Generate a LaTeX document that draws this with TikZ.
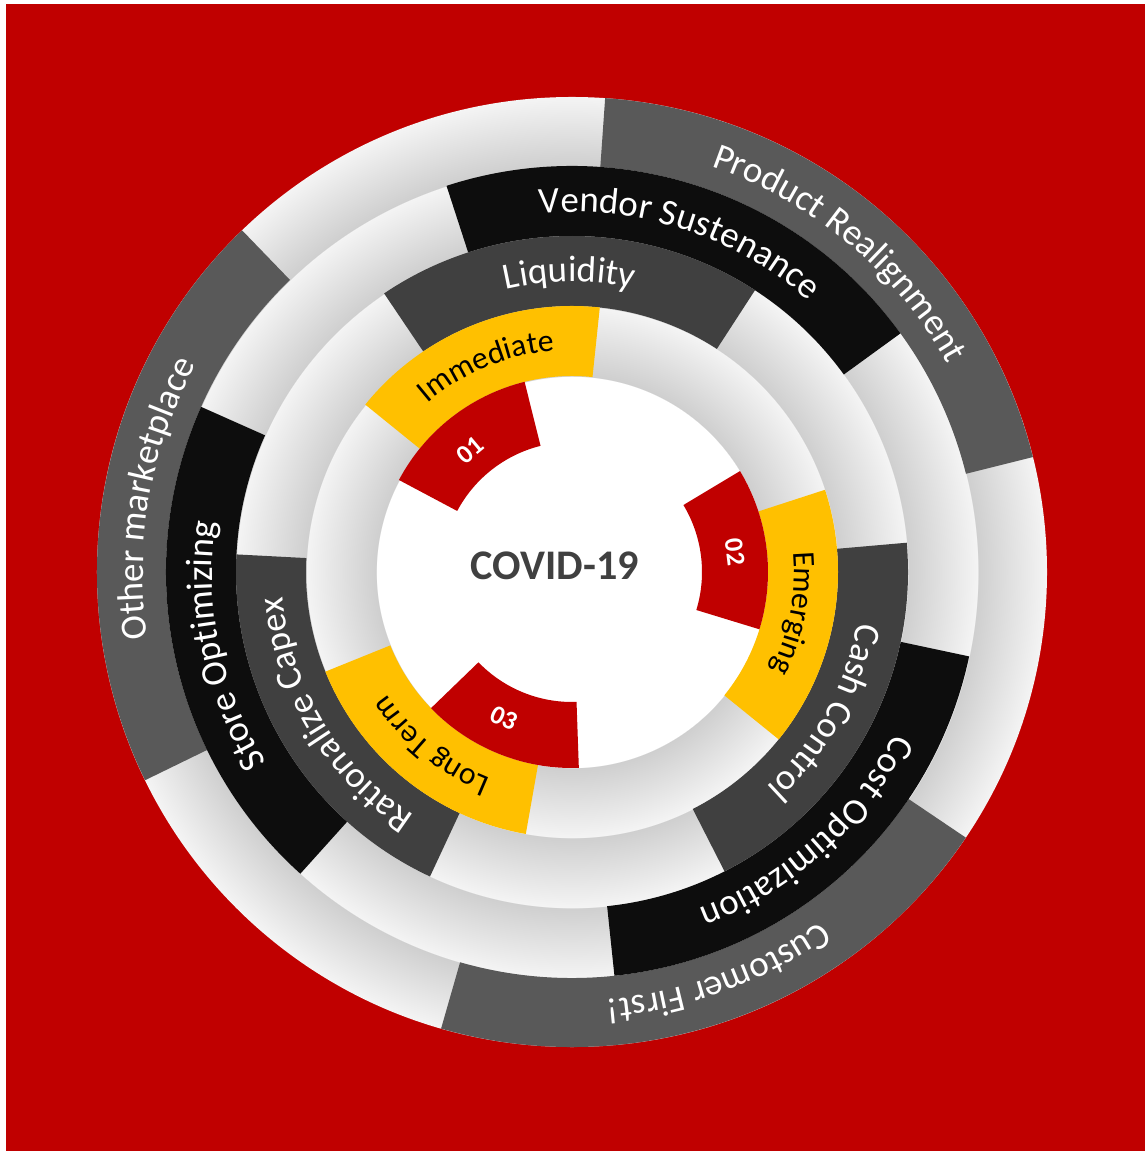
\documentclass[tikz,border=0pt]{standalone}
\usepackage{fontspec}
\setmainfont{Carlito}
\usetikzlibrary{decorations.text}
\definecolor{bgRed}{HTML}{C00000}
\definecolor{segYellow}{HTML}{FFC000}
\definecolor{segDark}{HTML}{404040}
\definecolor{segBlack}{HTML}{0D0D0D}
\definecolor{segGray}{HTML}{595959}
\definecolor{ringLight}{HTML}{F4F4F4}
\definecolor{ringDark}{HTML}{CFCFCF}

% white centre plus four light rings, 25bp = outer radius (475)
\pgfdeclareradialshading{ringshade}{\pgfpoint{0bp}{0bp}}{%
  color(0bp)=(white); color(10.31bp)=(white);
  color(10.32bp)=(ringDark); color(13.99bp)=(ringLight);
  color(14bp)=(ringDark); color(17.67bp)=(ringLight);
  color(17.68bp)=(ringDark); color(21.36bp)=(ringLight);
  color(21.37bp)=(ringDark); color(25bp)=(ringLight);
  color(50bp)=(ringLight)}

% colour, inner radius, outer radius, from angle, to angle
\newcommand{\ringseg}[5]{%
  \fill[#1] (#4:#2) arc[start angle=#4, end angle=#5, radius=#2]
    -- (#5:#3) arc[start angle=#5, end angle=#4, radius=#3] -- cycle;}

% text colour, size, baseline radius, from angle, to angle, text
\newcommand{\ringlabel}[6]{%
  \path[decorate, decoration={text along path, text align=center,
      text color=#1, text={|\fontsize{#2}{#2}\selectfont|#6}}]
    (#4:#3) arc[start angle=#4, end angle=#5, radius=#3];}

\begin{document}
\begin{tikzpicture}[x=0.02cm, y=0.02cm,
  numlabel/.style={text=white, font=\fontsize{15}{15}\selectfont\bfseries}]
  \useasboundingbox (-572,-579) rectangle (575,572);
  \fill[white] (-572,-579) rectangle (575,572);
  \fill[bgRed] (-566,-579) rectangle (573,568);

  \shade[shading=ringshade] (0,0) circle (475);

  % outer ring
  \ringseg{segGray}{406}{475}{14}{86}
  \ringseg{segGray}{406}{475}{134}{206}
  \ringseg{segGray}{406}{475}{254}{326}
  % second ring
  \ringseg{segBlack}{336}{406}{36}{108}
  \ringseg{segBlack}{336}{406}{156}{228}
  \ringseg{segBlack}{336}{406}{276}{348}
  % third ring
  \ringseg{segDark}{266}{336}{57}{124}
  \ringseg{segDark}{266}{336}{177}{245}
  \ringseg{segDark}{266}{336}{297}{365}
  % yellow ring
  \ringseg{segYellow}{196}{266}{84}{141}
  \ringseg{segYellow}{196}{266}{202}{260}
  \ringseg{segYellow}{196}{266}{321}{378}
  % red steps
  \ringseg{bgRed}{130}{196}{104}{152}
  \ringseg{bgRed}{130}{196}{224}{272}
  \ringseg{bgRed}{130}{196}{343}{391}

  \ringlabel{white}{21}{429}{86}{14}{Product Realignment}
  \ringlabel{white}{21}{429}{206}{134}{Other marketplace}
  \ringlabel{white}{21}{429}{326}{254}{Customer First!}
  \ringlabel{white}{21}{360}{108}{36}{Vendor Sustenance}
  \ringlabel{white}{21}{360}{228}{156}{Store Optimizing}
  \ringlabel{white}{21}{360}{348}{276}{Cost Optimization}
  \ringlabel{white}{21}{290}{124}{57}{Liquidity}
  \ringlabel{white}{21}{290}{245}{177}{Rationalize Capex}
  \ringlabel{white}{21}{290}{365}{297}{Cash Control}
  \ringlabel{black}{18}{222}{141}{84}{Immediate}
  \ringlabel{black}{18}{222}{260}{202}{Long Term}
  \ringlabel{black}{18}{222}{378}{321}{Emerging}

  \node[numlabel, rotate=40] (n01) at (130:159) {01};
  \node[numlabel, rotate=-83] (n02) at (7:164) {02};
  \node[numlabel, rotate=-25] (n03) at (245:161) {03};
  \node[font=\fontsize{24}{24}\selectfont\bfseries, text=segDark] (covid) at (-17,6) {COVID-19};
\end{tikzpicture}
\end{document}
